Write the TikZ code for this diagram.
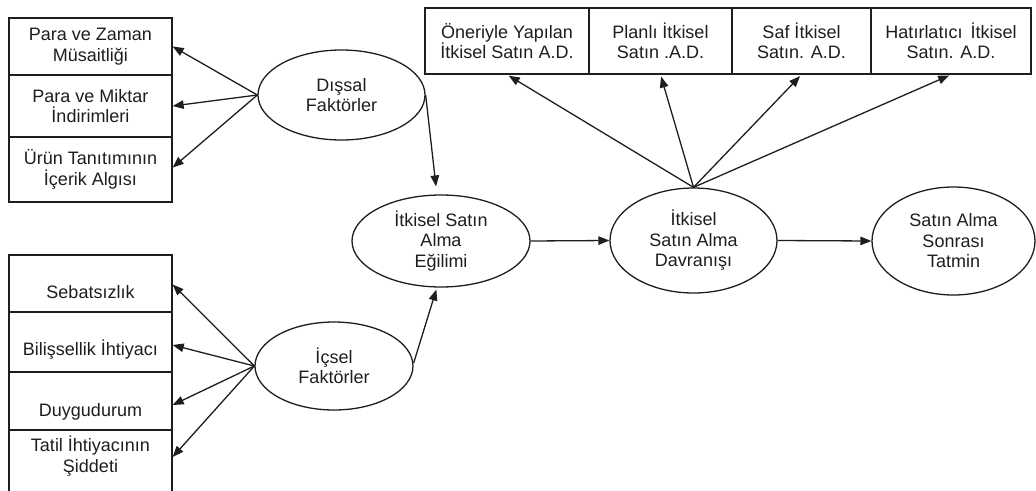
\documentclass[tikz,border=0pt]{standalone}
\usepackage{fontspec}
\setmainfont{Liberation Sans}
\usetikzlibrary{shapes.geometric,arrows.meta}
\newcommand\diagfont{\fontsize{18pt}{20.5pt}\selectfont}
\definecolor{ink}{HTML}{1E1E1E}
\begin{document}
\begin{tikzpicture}[x=1pt,y=-1pt,
  box/.style={draw=ink,line width=1.3pt,rectangle,inner sep=0pt,align=center,font=\diagfont,text=ink},
  oval/.style={draw=ink,line width=1.3pt,ellipse,inner sep=0pt,align=center,font=\diagfont,text=ink},
  lbl/.style={font=\diagfont,text=ink,align=center,inner sep=0pt},
  arr/.style={draw=ink,line width=1.3pt,-{Triangle[length=11pt,width=8.5pt]}}]
\useasboundingbox (0,0) rectangle (1036,490);
\fill[white] (0,0) rectangle (1036,490);
\clip (0,0) rectangle (1036,490);

% top row: kinds of impulse buying
\node[box,minimum width=164pt,minimum height=66pt] (oner) at (507,41) {Öneriyle Yapılan\\İtkisel Satın A.D.};
\node[box,minimum width=143pt,minimum height=66pt] (plan) at (660.5,41) {Planlı İtkisel\\Satın .A.D.};
\node[box,minimum width=139pt,minimum height=66pt] (saf) at (801.5,41) {Saf İtkisel\\Satın. A.D.};
\node[box,minimum width=160pt,minimum height=66pt] (hat) at (951,41) {Hatırlatıcı\ \,İtkisel\\Satın. A.D.};

% external factors
\node[box,minimum width=163pt,minimum height=57pt] (pz) at (90.5,46.5) {Para ve Zaman\\Müsaitliği};
\node[box,minimum width=163pt,minimum height=62pt] (pm) at (90.5,106) {Para ve Miktar\\İndirimleri};
\node[box,minimum width=163pt,minimum height=65pt] (ur) at (90.5,169.5) {Ürün Tanıtımının\\İçerik Algısı};

% internal factors
\node[box,minimum width=163pt,minimum height=57pt] (seb) at (90.5,283.5) {};
\node[box,minimum width=163pt,minimum height=60pt] (bil) at (90.5,342) {};
\node[box,minimum width=163pt,minimum height=58pt] (duy) at (90.5,401) {};
\node[box,minimum width=163pt,minimum height=66pt] (tat) at (90.5,463) {};
\node[lbl,anchor=base] (sebt) at (90.5,298) {Sebatsızlık};
\node[lbl,anchor=base] (bilt) at (90.5,355) {Bilişsellik İhtiyacı};
\node[lbl,anchor=base] (duyt) at (90.5,416) {Duygudurum};
\node[lbl] (tatt) at (90.5,456) {Tatil İhtiyacının\\Şiddeti};

% constructs
\node[oval,minimum width=167pt,minimum height=90pt] (dis) at (341.5,95) {Dışsal\\Faktörler};
\node[oval,minimum width=158pt,minimum height=88pt] (ics) at (334,366) {İçsel\\Faktörler};
\node[oval,minimum width=178pt,minimum height=92pt] (egi) at (441,241) {İtkisel Satın\\Alma\\Eğilimi};
\node[oval,minimum width=167pt,minimum height=105pt] (dav) at (693.5,240.5) {İtkisel\\Satın Alma\\Davranışı};
\node[oval,minimum width=163pt,minimum height=108pt] (son) at (953.5,241) {Satın Alma\\Sonrası\\Tatmin};

% connectors
\draw[arr] (dis.west) -- (pz.east);
\draw[arr] (dis.west) -- (pm.east);
\draw[arr] (dis.west) -- ([yshift=2pt]ur.east);
\draw[arr] (ics.west) -- ([yshift=-1pt]seb.east);
\draw[arr] (ics.west) -- ([yshift=-3pt]bil.east);
\draw[arr] (ics.west) -- ([yshift=-4pt]duy.east);
\draw[arr] (ics.west) -- ([yshift=6pt]tat.east);
\draw[arr,shorten >=8pt] (dis.east) -- (egi.95);
\draw[arr,shorten >=2pt] ([yshift=3pt]ics.east) -- (egi.265);
\draw[arr] (egi.east) -- (dav.west);
\draw[arr] (dav.east) -- (son.west);
\draw[arr,shorten >=2pt] (dav.north) -- (oner.south);
\draw[arr,shorten >=2pt] (dav.north) -- (plan.south);
\draw[arr,shorten >=2pt] (dav.north) -- (saf.south);
\draw[arr,shorten >=2pt] (dav.north) -- (hat.south);
\end{tikzpicture}
\end{document}
